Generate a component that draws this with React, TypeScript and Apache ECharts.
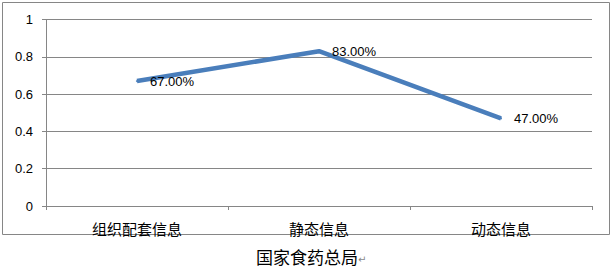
import React, { useEffect, useRef } from "react";
import * as echarts from "echarts";

const categories = ["组织配套信息", "静态信息", "动态信息"];
const values = [0.67, 0.83, 0.47];
const yTicks = [0, 0.2, 0.4, 0.6, 0.8, 1];
const title = "国家食药总局";

export default function App() {
  const ref = useRef<HTMLDivElement>(null);
  useEffect(() => {
    if (!ref.current) return;
    const chart = echarts.init(ref.current, null, { renderer: "svg" });
    const gray = "#868686";
    chart.setOption({
      animation: false,
      backgroundColor: "#ffffff",
      grid: { left: 46, right: 20, top: 19.5, bottom: 63, containLabel: false },
      xAxis: {
        type: "category",
        data: categories,
        boundaryGap: true,
        axisLine: { show: true, lineStyle: { color: gray, width: 1 } },
        axisTick: { show: true, length: 4, lineStyle: { color: gray } },
        axisLabel: {
          margin: 15,
          color: "#000",
          fontSize: 15,
          fontFamily: "Noto Sans CJK SC",
        },
        splitLine: { show: false },
      },
      yAxis: {
        type: "value",
        min: yTicks[0],
        max: yTicks[yTicks.length - 1],
        interval: 0.2,
        axisLine: { show: true, lineStyle: { color: gray, width: 1 } },
        axisTick: { show: true, length: 4, lineStyle: { color: gray } },
        axisLabel: {
          margin: 13,
          color: "#000",
          fontSize: 13,
          fontFamily: "Liberation Sans",
          formatter: (v: number) => String(Math.round(v * 10) / 10),
        },
        splitLine: { show: true, lineStyle: { color: gray, width: 1 } },
      },
      series: [
        {
          type: "line",
          data: values,
          symbol: "circle",
          symbolSize: 2,
          showSymbol: true,
          showAllSymbol: true,
          itemStyle: { color: "#4a7ebb" },
          lineStyle: { color: "#4a7ebb", width: 4.5 },
          label: {
            show: true,
            position: "right",
            distance: 12,
            color: "#000",
            fontSize: 13,
            fontFamily: "Liberation Sans",
            formatter: (p: any) => (Number(p.value) * 100).toFixed(2) + "%",
          },
        },
      ],
      graphic: [
        {
          type: "rect",
          shape: { x: 2.5, y: 2.5, width: 607, height: 232 },
          style: { fill: "none", stroke: gray, lineWidth: 1 },
          silent: true,
        },
        {
          type: "text",
          x: 256,
          y: 256,
          style: {
            text: "{t|" + title + "}{r|↵}",
            rich: {
              t: { fontSize: 17, fontFamily: "Noto Sans CJK SC", fill: "#000" },
              r: { fontSize: 10, fontFamily: "DejaVu Sans", fill: "#888", padding: [6, 0, 0, 0] },
            },
            verticalAlign: "middle",
            align: "left",
          },
        },
      ],
    });
    return () => chart.dispose();
  }, []);
  return <div ref={ref} style={{ width: 612, height: 269, position: "absolute", left: 0, top: 0 }} />;
}
